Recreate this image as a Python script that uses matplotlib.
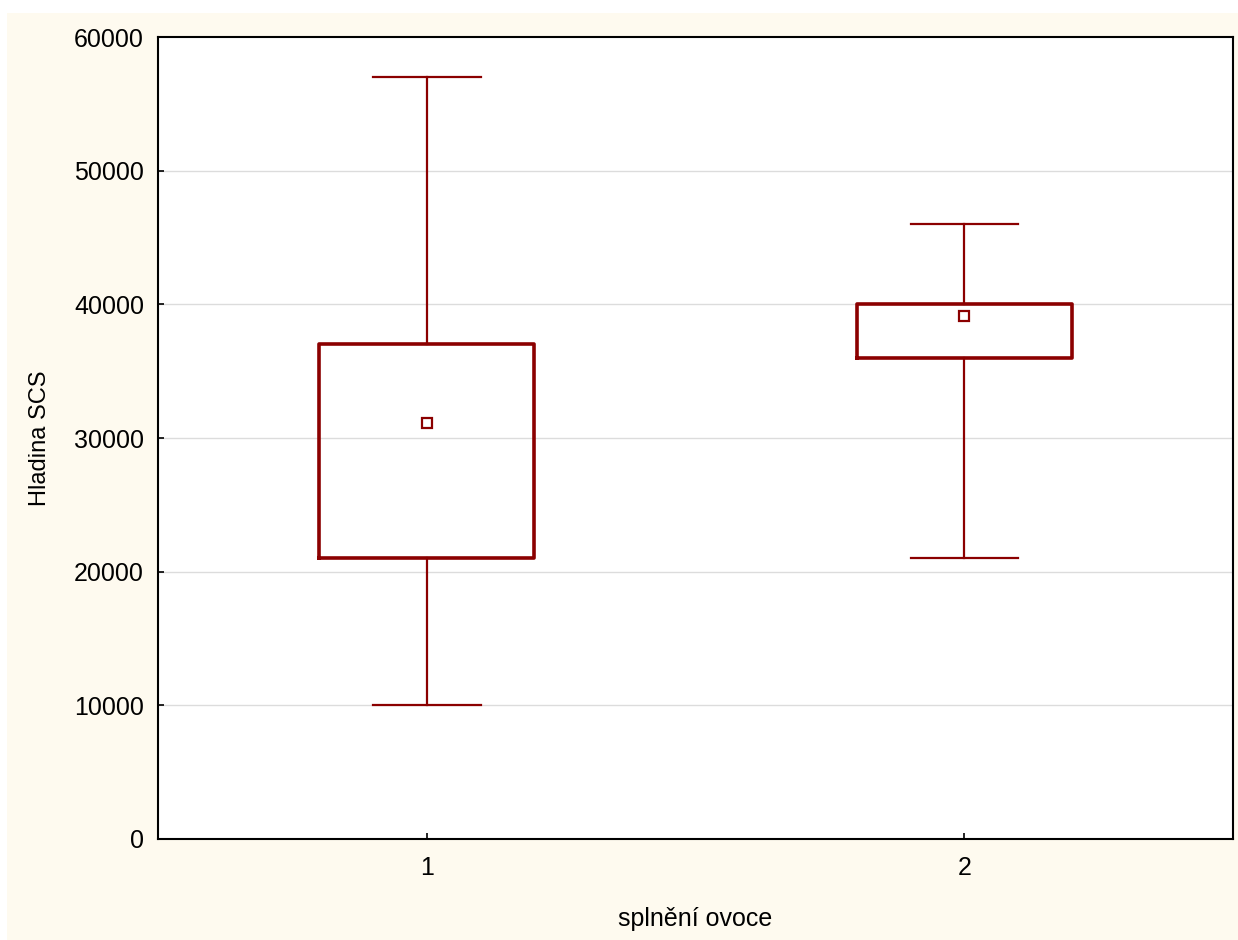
import matplotlib
matplotlib.use("Agg")
import matplotlib.pyplot as plt
from matplotlib.patches import Rectangle

plt.rcParams['font.family'] = ['Liberation Sans', 'DejaVu Sans']

# data
groups = ["1", "2"]
q1 = [21000, 36000]
q3 = [37000, 40000]
means = [31100, 39100]
whis_lo = [10000, 21000]
whis_hi = [57000, 46000]

box_col = "#8B0000"

fig = plt.figure(figsize=(12.38, 9.4), dpi=100)
fig.patch.set_facecolor("white")
# cream panel behind the plot (white strip on top/left like the original)
fig.add_artist(Rectangle((7 / 1238, -0.01), 1.1, 1.01 - 13 / 940, transform=fig.transFigure,
                         facecolor="#FEFAEF", edgecolor="none", zorder=-5))

ax = fig.add_axes([158 / 1238, 1 - 839 / 940, (1233 - 158) / 1238, (839 - 37) / 940])
ax.set_facecolor("white")

stats = []
for i, g in enumerate(groups):
    stats.append(dict(label=g, q1=q1[i], q3=q3[i], med=means[i], mean=means[i],
                      whislo=whis_lo[i], whishi=whis_hi[i], fliers=[]))

ax.bxp(stats, positions=[1, 2], widths=0.4, capwidths=0.2, showmeans=True,
       showfliers=False,
       boxprops=dict(color=box_col, linewidth=2.6),
       whiskerprops=dict(color=box_col, linewidth=1.6),
       capprops=dict(color=box_col, linewidth=1.6),
       medianprops=dict(linewidth=0),
       meanprops=dict(marker="s", markersize=7, markerfacecolor="white",
                      markeredgecolor=box_col, markeredgewidth=1.6))

ax.set_xlim(0.5, 2.5)
ax.set_ylim(0, 60000)
ax.set_yticks(range(0, 60001, 10000))
ax.set_xticks([1, 2])
ax.set_xticklabels(groups)

for y in range(10000, 60000, 10000):
    ax.axhline(y, color="#DCDCDC", linewidth=1, zorder=0)

ax.tick_params(direction="in", length=4, width=1.2, labelsize=18)
ax.tick_params(axis="y", pad=10)
ax.tick_params(axis="x", pad=12)
for s in ax.spines.values():
    s.set_linewidth(1.5)
    s.set_color("black")

ax.set_xlabel("splnění ovoce", fontsize=18, labelpad=20)
ax.set_ylabel("Hladina SCS", fontsize=17, labelpad=17)

fig.savefig("out.png", dpi=100, facecolor=fig.get_facecolor())
